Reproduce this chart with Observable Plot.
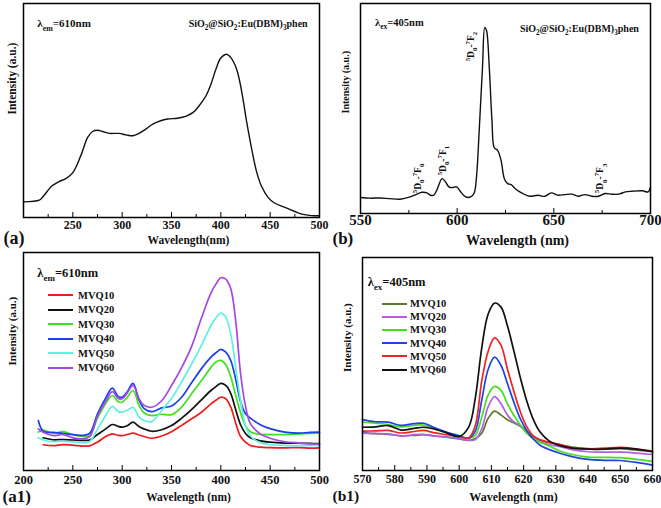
<!DOCTYPE html>
<html><head><meta charset="utf-8">
<script src="https://cdn.jsdelivr.net/npm/d3@7"></script>
<script src="https://cdn.jsdelivr.net/npm/@observablehq/plot@0.6"></script>
<style>
body{margin:0;background:#fff;}
#wrap{position:relative;width:661px;height:508px;overflow:hidden;font-family:"Liberation Serif",serif;font-weight:bold;color:#111;}
.panel{position:absolute;}
.legend{position:absolute;}
.legend div{display:flex;align-items:center;white-space:nowrap;}
.legend span.sw{display:inline-block;width:25px;height:0;border-top:2px solid;}
</style></head>
<body><div id="wrap"></div>
<script>
// ---------- Panel (a): excitation spectrum, λem = 610 nm ----------
const aWavelength = [200,216,219,229,236,243,250,258,265,270,275,280,287,297,304,311,317,324,331,339,346,356,365,372,378,385,390,395,400,406,410,416,421,426,431,436,441,448,454,465,475,482,492,500];
const aIntensity  = [7.3,8.1,9.3,14.8,16.8,18.2,21.0,28.8,37.4,40.2,40.8,40.2,39.3,39.3,38.6,38.2,39.3,41.3,43.6,45.2,46.0,46.4,47.4,49.1,52.2,56.9,62.3,69.3,74.5,76.3,74.8,69.3,59.2,45.2,32.7,21.8,14.8,9.3,6.9,4.7,2.8,1.6,0.9,0.8];
const aTickLabels = [250,300,350,400,450,500];
const aMinorTicks = [225,275,325,375,425,475];

// ---------- Panel (b): emission spectrum, λex = 405 nm ----------
const bWavelength = [550,555,560,565,570.5,575.7,579.2,581.8,584.4,586.2,587.9,589.6,592.2,594,595.7,597.5,599.7,601.8,604.4,607,608.8,610,611.4,613.1,614.3,615.2,616.6,618,619.2,620.9,622.7,624.4,626.1,627.9,630.5,634,637.4,641.8,645.3,648.7,652.2,655.7,659.2,662.6,666.1,669.6,673.1,676.5,680,683.5,687,690.4,695.7,698.8,700];
const bIntensity  = [7.6,7.3,7.4,7.1,6.8,7.9,9.2,10.1,9.8,8.7,8.7,11.4,16.6,15.0,12.7,12.3,12.7,10.3,7.9,7.9,9.8,17.4,39.6,69.6,88.6,87.0,69.6,44.3,31.3,30.1,25.3,16.6,14.2,13.8,11.4,9.5,8.2,8.7,8.2,9.8,8.7,9.0,9.2,8.2,9.0,8.2,8.2,9.5,9.2,9.2,10.3,10.6,10.8,10.3,12.5];
const bTickLabels = [550,600,650,700];
const bMinorTicks = [575,625,675];

// ---------- Panel (a1): excitation spectra of MVQ samples ----------
const a1Series = ["MVQ10","MVQ20","MVQ30","MVQ40","MVQ50","MVQ60"];
const a1Colors = ["#ee1c1c","#111111","#3fe01c","#1e3ee6","#5ff0e2","#a447e6"];
const a1Wavelength = [215,220,230,240,250,260,267,275,283,290,296,300,305,311,317,322,330,340,350,360,370,380,390,395,400,405,410,415,420,425,430,440,450,465,480,490,500];
const a1MVQ10 = [null,11.8,11.4,11.9,11.6,11.2,11.3,13.0,15.5,16.8,16.1,16.0,16.5,17.1,16.3,15.6,14.8,15.8,17.8,20.6,23.6,26.6,30.6,32.2,33.6,32.9,29.2,21.8,15.6,13.0,11.5,10.7,10.5,10.4,10.5,10.3,10.4];
const a1MVQ20 = [null,15.0,14.1,14.2,14.0,13.8,14.0,16.5,19.0,21.1,20.2,19.9,20.5,22.2,20.2,19.1,18.0,18.7,20.6,23.9,27.8,32.3,36.7,38.5,40.0,39.0,35.4,28.0,21.0,17.0,15.0,13.6,13.0,12.6,12.5,12.4,12.3];
const a1MVQ30 = [17.6,18.5,17.0,17.8,16.5,15.6,16.0,24.0,30.5,34.4,31.5,31.3,33.5,36.7,30.0,26.5,25.2,25.8,25.6,29.0,35.0,41.0,47.3,49.8,50.5,48.5,43.0,34.5,26.5,20.5,17.8,16.5,16.5,16.5,16.8,17.0,17.1];
const a1MVQ40 = [22.9,18.0,17.5,17.0,16.5,16.1,17.0,26.0,33.0,37.8,34.0,33.6,36.0,40.0,32.5,28.5,27.0,28.7,29.6,33.5,40.0,46.5,52.0,54.0,55.6,54.3,50.5,42.0,31.5,26.0,24.0,21.0,19.2,17.6,17.1,17.5,17.6];
const a1MVQ50 = [15.0,14.0,13.2,13.5,13.0,12.8,13.2,19.0,25.0,29.4,27.0,26.8,27.5,29.0,24.5,23.0,22.4,27.5,33.0,40.5,48.5,57.0,66.5,70.0,72.2,70.3,62.7,47.4,32.0,20.5,15.8,12.8,11.8,11.5,11.4,11.5,11.5];
const a1MVQ60 = [19.1,17.5,16.0,16.5,15.0,14.5,15.5,25.0,31.5,36.2,33.0,32.9,35.5,39.0,33.0,30.0,29.0,32.0,39.0,47.0,56.5,69.5,81.5,85.5,88.4,87.8,83.5,69.0,44.5,29.5,21.5,16.8,14.8,13.2,12.6,12.2,12.2];
const a1TickLabels = [200,250,300,350,400,450,500];
const a1MinorTicks = [225,275,325,375,425,475];

// ---------- Panel (b1): emission spectra of MVQ samples ----------
const b1Series = ["MVQ10","MVQ20","MVQ30","MVQ40","MVQ50","MVQ60"];
const b1Colors = ["#5b7a2c","#b45ee8","#45e01a","#2242e2","#ee2424","#111111"];
const b1Wavelength = [570,574,578,582,586,589,592,596,600,603,605,607,609,611,613,615,617,619,621,623,625,628,631,635,640,645,650,655,660];
const b1MVQ10 = [17.8,17.3,17.0,16.3,16.5,16.8,16.3,15.6,14.8,14.1,15.0,17.5,24.5,27.9,26.0,23.8,22.3,20.8,18.5,15.8,14.2,13.2,12.3,11.0,10.3,10.0,10.2,9.6,9.0];
const b1MVQ20 = [17.5,17.4,17.2,16.2,16.8,16.9,16.3,15.8,15.0,14.2,14.5,19.5,30.0,34.7,31.3,26.0,22.8,21.0,17.5,15.0,13.5,12.2,11.3,9.8,8.8,8.6,8.6,8.2,7.5];
const b1MVQ30 = [22.7,22.2,21.6,20.5,21.2,21.3,19.8,17.6,16.0,15.2,16.5,25.0,35.5,39.5,37.6,31.3,25.8,21.3,17.5,15.0,13.3,11.5,9.3,7.5,6.3,6.2,6.0,5.2,4.3];
const b1MVQ40 = [23.9,22.9,22.7,21.2,22.0,22.2,20.3,18.0,16.3,15.2,18.5,33.0,47.5,53.2,49.3,40.7,32.0,24.2,18.7,14.8,12.0,9.8,8.2,6.5,5.2,4.8,4.7,3.8,2.5];
const b1MVQ50 = [18.5,18.6,18.8,17.6,18.3,18.8,17.8,16.8,15.8,15.4,21.0,42.0,56.0,62.3,58.7,47.5,37.0,27.5,20.5,16.3,14.5,13.2,12.3,10.5,10.2,10.5,10.9,10.2,9.1];
const b1MVQ60 = [20.3,20.5,21.1,19.0,19.8,20.3,19.6,17.8,16.0,20.5,34.0,57.5,73.5,78.6,76.7,67.8,56.0,43.5,32.5,24.0,18.3,13.8,11.8,10.5,10.0,10.0,10.5,10.0,8.8];
const b1TickLabels = [570,580,590,600,610,620,630,640,650,660];
const b1MinorTicks = [575,585,595,605,615,625,635,645,655];

// ---------- helpers ----------
const single = (xs, ys) => xs.map((x, i) => ({x, y: ys[i]}));
const multi = (xs, names, cols) => names.flatMap((s, k) => xs.map((x, i) => ({x, y: cols[k][i], s}))).filter(d => d.y != null);

function richText(svg) {
  svg.querySelectorAll("text").forEach(el => {
    const s = el.textContent;
    if (!/[_^]\{/.test(s)) return;
    const fs = parseFloat(getComputedStyle(el).fontSize) || 12;
    el.textContent = "";
    let cur = 0, last = 0, m;
    const add = (txt, off, small) => {
      const t = document.createElementNS("http://www.w3.org/2000/svg", "tspan");
      t.textContent = txt;
      t.setAttribute("dy", (off - cur).toFixed(2));
      cur = off;
      if (small) t.setAttribute("font-size", (fs * 0.72).toFixed(1));
      el.appendChild(t);
    };
    const re = /([_^])\{([^}]*)\}/g;
    while ((m = re.exec(s))) {
      if (m.index > last) add(s.slice(last, m.index), 0, false);
      add(m[2], m[1] === "_" ? fs * 0.32 : -fs * 0.42, true);
      last = re.lastIndex;
    }
    if (last < s.length) add(s.slice(last), 0, false);
  });
}

const wrap = document.getElementById("wrap");

function panel(cfg) {
  const innerH = cfg.height - cfg.mt - cfg.mb;
  const marks = [
    Plot.ruleX(cfg.major, {stroke: "black", strokeWidth: 1, insetTop: innerH - 5}),
    Plot.ruleX(cfg.minor, {stroke: "black", strokeWidth: 1, insetTop: innerH - 3}),
    Plot.axisX(cfg.major, {tickSize: 0, tickPadding: cfg.pad, fontSize: cfg.tickFont, label: null, tickFormat: d => String(d)}),
    ...cfg.marks,
    Plot.frame({stroke: "black", strokeWidth: 1.5}),
    Plot.text([cfg.xLabel], {text: d => d, frameAnchor: "bottom", dx: cfg.xlDx, dy: cfg.xlDy, fontSize: cfg.xlFont, lineAnchor: "middle"}),
    Plot.text(["Intensity (a.u.)"], {text: d => d, frameAnchor: "left", rotate: -90, dx: cfg.ylDx, dy: cfg.ylDy, fontSize: cfg.ylFont}),
    Plot.text([cfg.tag], {text: d => d, frameAnchor: "bottom-left", textAnchor: "start", dx: cfg.tagDx, dy: cfg.tagDy, fontSize: cfg.tagFont, lineAnchor: "middle"})
  ];
  const svg = Plot.plot({
    width: cfg.width, height: cfg.height,
    marginLeft: cfg.ml, marginRight: cfg.mr, marginTop: cfg.mt, marginBottom: cfg.mb,
    x: {domain: cfg.xDomain},
    y: {domain: [0, 100], axis: null},
    color: cfg.color,
    style: {fontFamily: "'Liberation Serif', serif", fontWeight: "bold", fontSize: "11px", color: "#111", background: "transparent", overflow: "visible"},
    marks
  });
  const div = document.createElement("div");
  div.className = "panel";
  div.style.left = cfg.left + "px";
  div.style.top = cfg.top + "px";
  div.appendChild(svg);
  if (cfg.legend) {
    const lg = document.createElement("div");
    lg.className = "legend";
    lg.style.left = cfg.legend.left + "px";
    lg.style.top = cfg.legend.top + "px";
    lg.style.fontSize = cfg.legend.fontSize + "px";
    cfg.legend.names.forEach((n, i) => {
      const row = document.createElement("div");
      row.style.height = cfg.legend.row + "px";
      row.innerHTML = `<span class="sw" style="border-color:${cfg.legend.colors[i]};margin-right:${cfg.legend.gap}px"></span>${n}`;
      lg.appendChild(row);
    });
    div.appendChild(lg);
  }
  wrap.appendChild(div);
  richText(svg);
}

// (a)
panel({
  left: 0, top: 0, width: 330, height: 250, ml: 23, mr: 11, mt: 3, mb: 33,
  xDomain: [200, 500], major: aTickLabels, minor: aMinorTicks, pad: 3, tickFont: 12,
  xLabel: "Wavelength(nm)", xlDx: 17, xlDy: 23, xlFont: 11.5, ylDx: -11, ylDy: 4, ylFont: 11.5,
  tag: "(a)", tagDx: -20, tagDy: 21, tagFont: 18,
  marks: [
    Plot.line(single(aWavelength, aIntensity), {x: "x", y: "y", stroke: "#111", strokeWidth: 1.4, curve: "catmull-rom"}),
    Plot.text([{x: 214, y: 90.5, t: "λ_{em}=610nm"}], {x: "x", y: "y", text: "t", textAnchor: "start", fontSize: 11}),
    Plot.text([{x: 488, y: 90.5, t: "SiO_{2}@SiO_{2}:Eu(DBM)_{3}phen"}], {x: "x", y: "y", text: "t", textAnchor: "end", fontSize: 10})
  ]
});

// (b)
panel({
  left: 330, top: 0, width: 331, height: 250, ml: 30, mr: 11, mt: 3, mb: 37,
  xDomain: [550, 700], major: bTickLabels, minor: bMinorTicks, pad: 1, tickFont: 15,
  xLabel: "Wavelength (nm)", xlDx: 12, xlDy: 27, xlFont: 14, ylDx: -15, ylDy: 5, ylFont: 10,
  tag: "(b)", tagDx: -28, tagDy: 25, tagFont: 17,
  marks: [
    Plot.line(single(bWavelength, bIntensity), {x: "x", y: "y", stroke: "#111", strokeWidth: 1.4, curve: "catmull-rom"}),
    Plot.text([{x: 557.5, y: 91, t: "λ_{ex}=405nm"}], {x: "x", y: "y", text: "t", textAnchor: "start", fontSize: 10.5}),
    Plot.text([{x: 694, y: 88, t: "SiO_{2}@SiO_{2}:Eu(DBM)_{3}phen"}], {x: "x", y: "y", text: "t", textAnchor: "end", fontSize: 10}),
    Plot.text([
      {x: 579.5, y: 16.7, t: "^{5}D_{0}-^{7}F_{0}"},
      {x: 592.4, y: 25.2, t: "^{5}D_{0}-^{7}F_{1}"},
      {x: 606.9, y: 79.5, t: "^{5}D_{0}-^{7}F_{2}"},
      {x: 674.1, y: 16.7, t: "^{5}D_{0}-^{7}F_{3}"}
    ], {x: "x", y: "y", text: "t", rotate: -90, fontSize: 9.5})
  ]
});

// (a1)
panel({
  left: 0, top: 250, width: 330, height: 258, ml: 23, mr: 11, mt: 2, mb: 38,
  xDomain: [200, 500], major: a1TickLabels, minor: a1MinorTicks, pad: 5, tickFont: 12.5,
  xLabel: "Wavelength (nm)", xlDx: 17, xlDy: 27, xlFont: 11.5, ylDx: -11, ylDy: 4, ylFont: 11,
  tag: "(a1)", tagDx: -21, tagDy: 26, tagFont: 17,
  color: {domain: a1Series, range: a1Colors},
  legend: {left: 48, top: 38, row: 14.5, fontSize: 10.5, gap: 5, names: a1Series, colors: a1Colors},
  marks: [
    Plot.line(multi(a1Wavelength, a1Series, [a1MVQ10, a1MVQ20, a1MVQ30, a1MVQ40, a1MVQ50, a1MVQ60]),
      {x: "x", y: "y", z: "s", stroke: "s", strokeWidth: 1.7, curve: "catmull-rom"}),
    Plot.text([{x: 214, y: 90.4, t: "λ_{em}=610nm"}], {x: "x", y: "y", text: "t", textAnchor: "start", fontSize: 12.5})
  ]
});

// (b1)
panel({
  left: 330, top: 250, width: 331, height: 258, ml: 32, mr: 9, mt: 7, mb: 38,
  xDomain: [570, 660], major: b1TickLabels, minor: b1MinorTicks, pad: 4, tickFont: 12,
  xLabel: "Wavelength (nm)", xlDx: 6, xlDy: 27, xlFont: 12, ylDx: -15, ylDy: 8, ylFont: 11,
  tag: "(b1)", tagDx: -30, tagDy: 26, tagFont: 15.5,
  color: {domain: b1Series, range: b1Colors},
  legend: {left: 52, top: 47, row: 13.2, fontSize: 10.5, gap: 3, names: b1Series, colors: b1Colors},
  marks: [
    Plot.line(multi(b1Wavelength, b1Series, [b1MVQ10, b1MVQ20, b1MVQ30, b1MVQ40, b1MVQ50, b1MVQ60]),
      {x: "x", y: "y", z: "s", stroke: "s", strokeWidth: 1.7, curve: "catmull-rom"}),
    Plot.text([{x: 571.6, y: 88.3, t: "λ_{ex}=405nm"}], {x: "x", y: "y", text: "t", textAnchor: "start", fontSize: 12.5})
  ]
});
</script>
</body></html>
